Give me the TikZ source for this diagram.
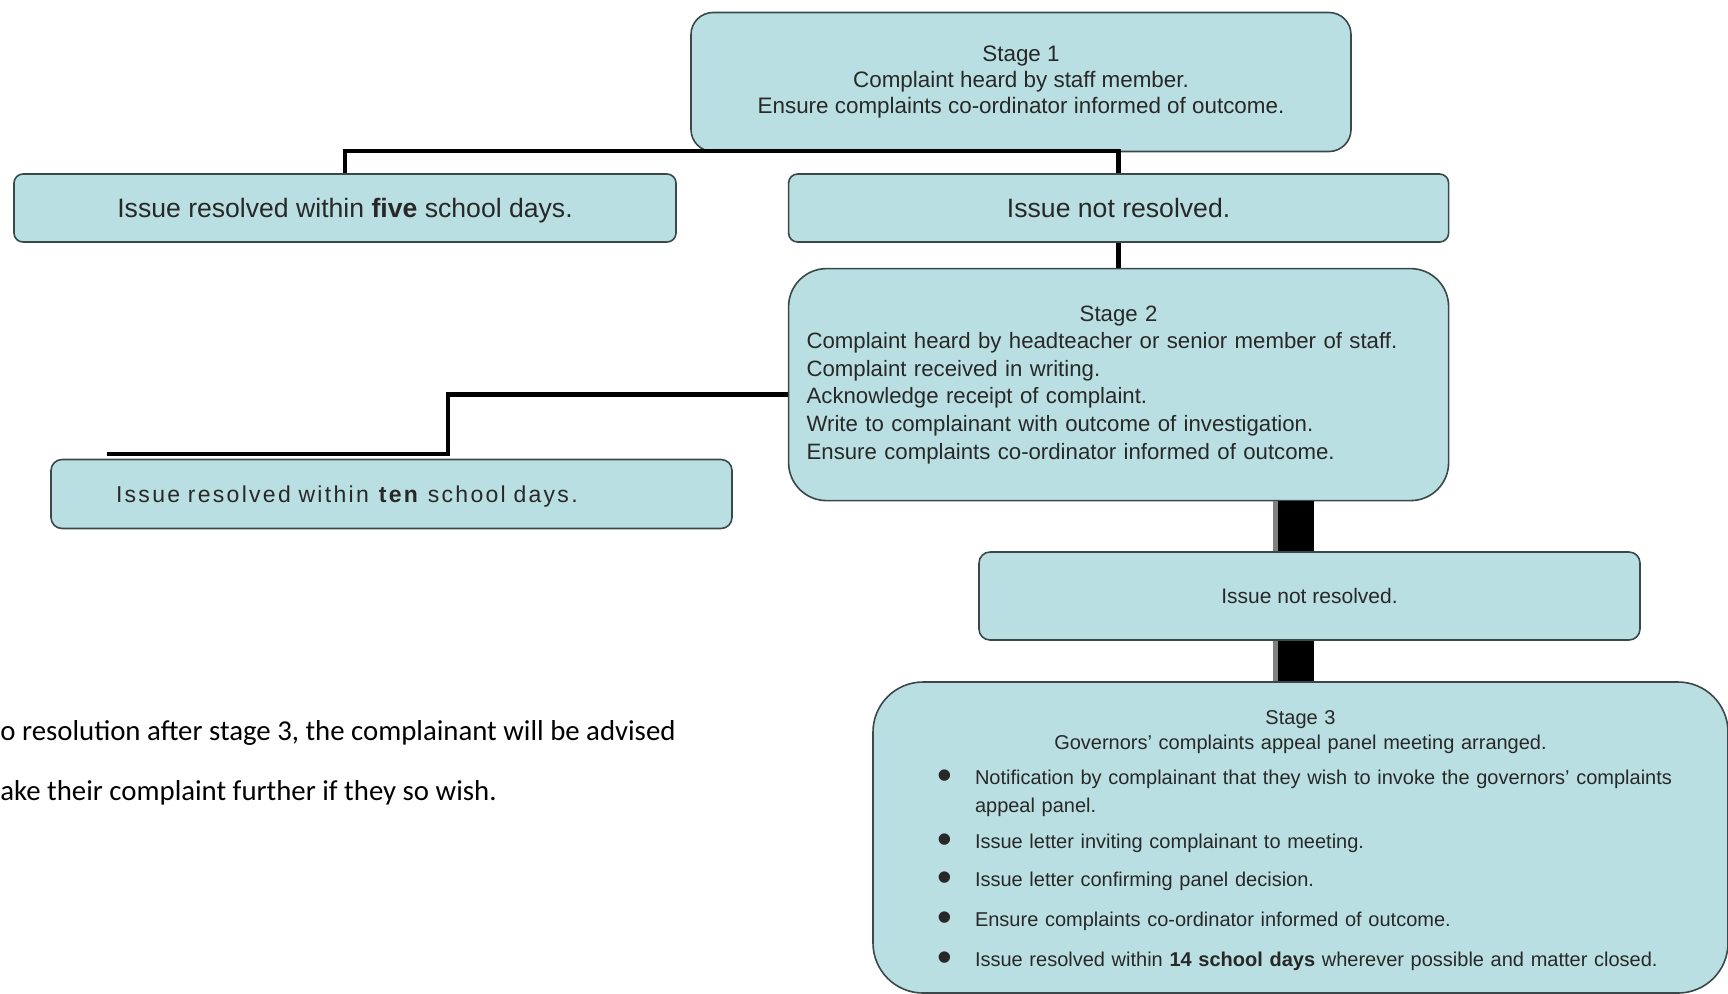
\documentclass[tikz,border=0pt]{standalone}
\usepackage{fontspec}
\setmainfont{Liberation Sans}
\newfontfamily\calfont{Carlito}
\newfontfamily\widefont[LetterSpace=10]{Liberation Sans}
\usepackage{tikz}
\usetikzlibrary{positioning, calc}
\definecolor{boxfill}{RGB}{186,223,226}
\definecolor{boxline}{RGB}{58,72,74}
\definecolor{txtgray}{RGB}{40,40,40}
\newcommand{\sbul}{\makebox[32.25pt][l]{\hspace*{13.5pt}\raisebox{-2.2pt}{\fontsize{21}{12.5}\selectfont\textbullet}}}
\tikzset{
	box/.style={draw=boxline, fill=boxfill, line width=0.8pt, inner sep=0pt, text=txtgray, align=center},
	conn/.style={line width=2.2pt, black},
	bar/.style={line width=18pt, black},
	barshade/.style={line width=20.5pt, gray},
}

\begin{document}
\begin{tikzpicture}[x=0.5pt, y=-0.5pt]
	\useasboundingbox (0,0) rectangle (1728,993);
	\clip (0,0) rectangle (1728,993);
	
	\node[box, rounded corners=11pt, minimum width=330pt, minimum height=69.5pt, font={\fontsize{11.2}{13.2}\selectfont}] (s1) at (1021,82)
		{Stage 1\\Complaint heard by staff member.\\Ensure complaints co-ordinator informed of outcome.};
	\node[box, rounded corners=4.5pt, minimum width=331pt, minimum height=34pt, text depth=0pt, font={\fontsize{13.3}{16}\selectfont}] (five) at (345,208)
		{Issue resolved within \textbf{five} school days.};
	\node[box, rounded corners=4.5pt, minimum width=330pt, minimum height=34pt, text depth=0pt, font={\fontsize{13.3}{16}\selectfont}, right=55.5pt of five] (nr1)
		{Issue not resolved.};
	\node[box, rounded corners=19pt, minimum width=330pt, minimum height=116pt, text width=312pt, align=left, font={\fontsize{11.1}{13.8}\selectfont}, below=12.5pt of nr1] (s2)
		{\makebox[312pt]{Stage 2}\\
		Complaint heard by headteacher or senior member of staff.\\
		Complaint received in writing.\\
		Acknowledge receipt of complaint.\\
		Write to complainant with outcome of investigation.\\
		Ensure complaints co-ordinator informed of outcome.};
	\node[box, rounded corners=5.5pt, minimum width=340.5pt, minimum height=34.5pt, text width=275.5pt, text depth=0pt, align=left, font={\widefont\fontsize{11.5}{13}\selectfont}] (ten) at (391.5,494)
		{Issue resolved within \textbf{ten} school days.};
	\node[box, rounded corners=5.5pt, minimum width=330.5pt, minimum height=44pt, font={\fontsize{10.5}{12.6}\selectfont}] (nr2) at (1309.5,596)
		{Issue not resolved.};
	\node[box, rounded corners=25pt, minimum width=427.5pt, minimum height=155.5pt, text width=390pt, align=left, font={\fontsize{10}{12.5}\selectfont}] (s3) at (1300.5,837.5)
		{\makebox[390pt]{\rule{0pt}{10.5pt}Stage 3}\\
		\makebox[390pt]{Governors' complaints appeal panel meeting arranged.}\\[5pt]
		\sbul Notification by complainant that they wish to invoke the governors' complaints\\[1.25pt]
		\hspace*{32.25pt}appeal panel.\\[5.75pt]
		\sbul Issue letter inviting complainant to meeting.\\[6.5pt]
		\sbul Issue letter confirming panel decision.\\[7.5pt]
		\sbul Ensure complaints co-ordinator informed of outcome.\\[7.5pt]
		\sbul Issue resolved within \textbf{14 school days} wherever possible and matter closed.};
	
	% note beside stage 3
	\node[anchor=west, inner sep=0pt, font={\calfont\fontsize{14.4}{17}\selectfont}] (note1) at (0,733)
		{o resolution after stage 3, the complainant will be advised};
	\node[anchor=west, inner sep=0pt, font={\calfont\fontsize{14.4}{17}\selectfont}] (note2) at (0,793)
		{ake their complaint further if they so wish.};
	
	% connectors
	\coordinate (tenend) at (107,454);
	\coordinate (barx) at (1293,0);
	\draw[conn] (five.north) -- ++(0,-22) -| (nr1.north);
	\draw[conn] (nr1.south) -- (s2.north);
	\draw[conn] ([yshift=-5pt]s2.west) -- ++(-340,0) |- (tenend);
	\draw[barshade] (s2.south -| barx) -- (nr2.north -| barx);
	\draw[bar] ([xshift=1.25pt]s2.south -| barx) -- ([xshift=1.25pt]nr2.north -| barx);
	\draw[barshade] (nr2.south -| barx) -- (s3.north -| barx);
	\draw[bar] ([xshift=1.25pt]nr2.south -| barx) -- ([xshift=1.25pt]s3.north -| barx);
\end{tikzpicture}
\end{document}
